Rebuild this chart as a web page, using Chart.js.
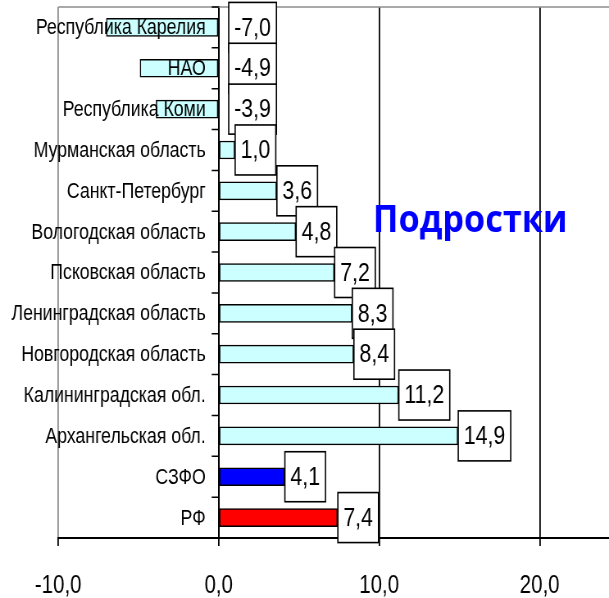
<!DOCTYPE html>
<html>
<head>
<meta charset="utf-8">
<script src="https://cdn.jsdelivr.net/npm/chart.js@4/dist/chart.umd.min.js"></script>
<style>
html,body{margin:0;padding:0;overflow:hidden;background:#fff;width:609px;height:598px}
#wrap{width:609px;height:598px;overflow:hidden;position:relative}
#c{position:absolute;left:0;top:0;transform-origin:0 0;transform:scaleX(0.81965)}
</style>
</head>
<body>
<div id="wrap"><canvas id="c" width="743" height="598" style="width:743px;height:598px"></canvas></div>
<script>
// ---- data ----
const categories = ['Республика Карелия','НАО','Республика Коми','Мурманская область','Санкт-Петербург','Вологодская область','Псковская область','Ленинградская область','Новгородская область','Калининградская обл.','Архангельская обл.','СЗФО','РФ'];
const values = [-7.0,-4.9,-3.9,1.0,3.6,4.8,7.2,8.3,8.4,11.2,14.9,4.1,7.4];
const xTicks = [-10,0,10,20];
const chartTitle = 'Подростки';

// ---- styling ----
const S = 609/743;            // horizontal compression of the canvas
const FONT = "'Liberation Sans', Arial, sans-serif";
const fmt = v => v.toFixed(1).replace('.', ',');
function barColor(name){
  if (name === 'СЗФО') return '#0000FF';
  if (name === 'РФ') return '#FF0000';
  return '#CCFFFF';
}

const framePlugin = {
  id:'frame',
  beforeDatasetsDraw(chart){
    const {ctx, chartArea:a} = chart;
    ctx.save();
    ctx.strokeStyle = '#8c8c8c';
    ctx.lineWidth = 1.5;
    ctx.beginPath();
    ctx.moveTo(a.left, a.top);
    ctx.lineTo(a.right, a.top);
    ctx.stroke();
    ctx.restore();
  }
};

// category labels and tick marks of the y axis, drawn over the bars
const categoryAxis = {
  id:'categoryAxis',
  afterDatasetsDraw(chart){
    const {ctx, chartArea:a} = chart;
    const xs = chart.scales.x, ys = chart.scales.y;
    const x0 = xs.getPixelForValue(0);
    ctx.save();
    ctx.strokeStyle = '#000';
    ctx.lineWidth = 1.5;
    const n = categories.length;
    const bounds = [a.top];
    for (let i = 0; i < n - 1; i++) bounds.push((ys.getPixelForValue(i) + ys.getPixelForValue(i + 1)) / 2);
    bounds.push(a.bottom);
    ctx.beginPath();
    bounds.forEach(y => { ctx.moveTo(x0 - 7/S, y); ctx.lineTo(x0, y); });
    ctx.stroke();
    ctx.font = "21.6px " + FONT;
    ctx.fillStyle = '#000';
    ctx.textAlign = 'right';
    ctx.textBaseline = 'middle';
    categories.forEach((c, i) => {
      ctx.fillText(c, x0 - 13/S, ys.getPixelForValue(i) + 1);
    });
    ctx.restore();
  }
};

const boxLabels = {
  id:'boxLabels',
  afterDraw(chart){
    const {ctx} = chart;
    const xs = chart.scales.x;
    const meta = chart.getDatasetMeta(0);
    ctx.save();
    ctx.font = "26px " + FONT;
    ctx.textAlign = 'center';
    ctx.textBaseline = 'middle';
    meta.data.forEach((bar, i) => {
      const v = values[i];
      const txt = fmt(v);
      const tw = ctx.measureText(txt).width;
      const w = tw + 2*5.5/S;
      const h = 50;
      const left = v >= 0 ? xs.getPixelForValue(v) + 0.5 : xs.getPixelForValue(0) + 10/S;
      const top = bar.y - h/2;
      ctx.fillStyle = '#fff';
      ctx.fillRect(left, top, w, h);
      ctx.strokeStyle = '#000';
      ctx.lineWidth = 1.6;
      ctx.strokeRect(left, top, w, h);
      ctx.fillStyle = '#000';
      ctx.fillText(txt, left + w/2, bar.y + 1);
    });
    ctx.restore();
  }
};

const titlePlugin = {
  id:'cornerTitle',
  afterDraw(chart){
    const {ctx} = chart;
    const k = 0.9;
    ctx.save();
    ctx.scale(k/S, 1);
    ctx.font = "bold 38px 'Open Sans', 'Noto Sans', sans-serif";
    ctx.fillStyle = '#0000FF';
    ctx.textAlign = 'left';
    ctx.textBaseline = 'alphabetic';
    ctx.fillText(chartTitle, 373/k, 232);
    ctx.restore();
  }
};

new Chart(document.getElementById('c'), {
  type:'bar',
  data:{
    labels: categories,
    datasets:[{
      data: values,
      backgroundColor: c => barColor(categories[c.dataIndex]),
      borderColor:'#000',
      borderWidth:1.5,
      borderSkipped:false,
      barThickness:18
    }]
  },
  options:{
    indexAxis:'y',
    responsive:false,
    animation:false,
    devicePixelRatio:1,
    layout:{padding:{left:71, top:7, right:0, bottom:0}},
    plugins:{legend:{display:false}, tooltip:{enabled:false}, title:{display:false}},
    scales:{
      x:{
        type:'linear', min:-10, max:24.32, position:'bottom',
        afterBuildTicks: s => { s.ticks = xTicks.map(v => ({value:v})); },
        afterFit: s => { s.height = 60; },
        grid:{
          color: c => (c.tick && c.tick.value === -10) ? '#8c8c8c' : '#000',
          lineWidth:1.8, tickLength:8, tickColor:'#000', drawTicks:true
        },
        border:{color:'#000', width:2},
        ticks:{color:'#000', font:{family:FONT, size:25}, padding:25, maxRotation:0, autoSkip:false,
               callback: v => fmt(v)}
      },
      y:{
        type:'category', position:{x:0}, z:1,
        grid:{display:true, drawOnChartArea:false, drawTicks:false},
        border:{color:'#000', width:2},
        ticks:{display:false}
      }
    }
  },
  plugins:[framePlugin, categoryAxis, boxLabels, titlePlugin]
});
</script>
</body>
</html>
